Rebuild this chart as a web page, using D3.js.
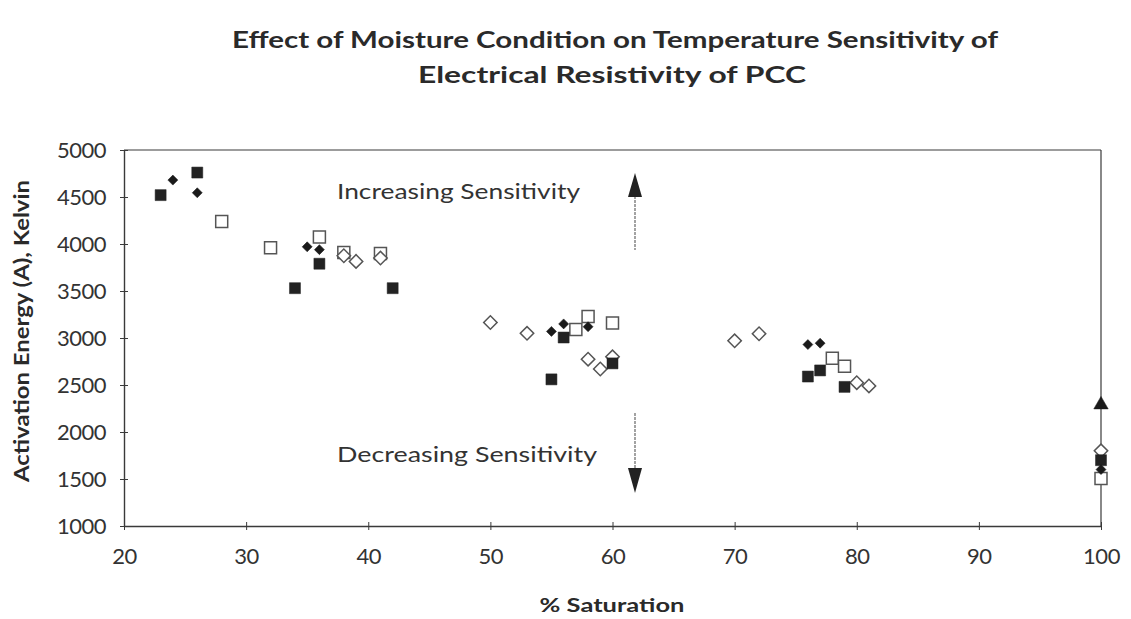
<!DOCTYPE html>
<html>
<head>
<meta charset="utf-8">
<script src="https://cdn.jsdelivr.net/npm/d3@7"></script>
<style>
  body { margin: 0; background: #fff; }
  svg { display: block; }
  text { font-family: "Lato", "DejaVu Sans", sans-serif; }
</style>
</head>
<body>
<svg id="chart" width="1131" height="619"></svg>
<script>
// ---- data ----
const titleLines = ["Effect of Moisture Condition on Temperature Sensitivity of", "Electrical Resistivity of PCC"];
const xLabel = "% Saturation";
const yLabel = "Activation Energy (A), Kelvin";
const xTicks = [20, 30, 40, 50, 60, 70, 80, 90, 100];
const yTicks = [1000, 1500, 2000, 2500, 3000, 3500, 4000, 4500, 5000];

const filledSquareX = [23, 26, 34, 36, 42, 55, 56, 60, 76, 77, 79, 100];
const filledSquareY = [4520, 4760, 3530, 3790, 3530, 2560, 3005, 2730, 2590, 2655, 2480, 1700];

const filledDiamondX = [24, 26, 35, 36, 55, 56, 58, 76, 77, 100];
const filledDiamondY = [4680, 4545, 3970, 3940, 3070, 3150, 3120, 2930, 2945, 1600];

const openSquareX = [28, 32, 36, 38, 41, 57, 58, 60, 78, 79, 100];
const openSquareY = [4240, 3960, 4075, 3910, 3900, 3090, 3230, 3160, 2785, 2700, 1505];

const openDiamondX = [38, 39, 41, 50, 53, 58, 59, 60, 70, 72, 80, 81, 100];
const openDiamondY = [3875, 3815, 3850, 3165, 3050, 2775, 2670, 2800, 2970, 3045, 2525, 2490, 1800];

const filledTriangleX = [100];
const filledTriangleY = [2290];

const annotations = ["Increasing Sensitivity", "Decreasing Sensitivity"];

// ---- layout ----
const svg = d3.select("#chart");
const pLeft = 124, pRight = 1101, pTop = 150, pBottom = 526;
const x = d3.scaleLinear().domain([20, 100]).range([pLeft, pRight]);
const y = d3.scaleLinear().domain([1000, 5000]).range([pBottom, pTop]);
const axisColor = "#3a3a3a";
const textColor = "#333";

// title
svg.append("text").attr("x", 615).attr("y", 48).attr("text-anchor", "middle")
  .attr("font-size", 22).attr("font-weight", "bold").attr("fill", "#2a2a2a")
  .attr("textLength", 766).attr("lengthAdjust", "spacingAndGlyphs").text(titleLines[0]);
svg.append("text").attr("x", 612).attr("y", 83).attr("text-anchor", "middle")
  .attr("font-size", 22).attr("font-weight", "bold").attr("fill", "#2a2a2a")
  .attr("textLength", 388).attr("lengthAdjust", "spacingAndGlyphs").text(titleLines[1]);

// frame (top & right)
svg.append("line").attr("x1", pLeft).attr("x2", pRight).attr("y1", pTop).attr("y2", pTop)
  .attr("stroke", axisColor).attr("stroke-width", 1.2);
svg.append("line").attr("x1", pRight).attr("x2", pRight).attr("y1", pTop).attr("y2", pBottom)
  .attr("stroke", axisColor).attr("stroke-width", 1.2);

// axes
const xAxis = d3.axisBottom(x).tickValues(xTicks).tickSize(0).tickPadding(0).tickFormat(d3.format("d"));
const gx = svg.append("g").attr("transform", `translate(0,${pBottom})`).call(xAxis);
gx.select(".domain").attr("stroke", axisColor).attr("stroke-width", 1.4);
gx.selectAll(".tick line").remove();
gx.selectAll(".tick").append("line").attr("y1", -4).attr("y2", 4).attr("stroke", axisColor);
gx.selectAll(".tick text").attr("y", 38).attr("dy", 0).attr("font-size", 22).attr("fill", textColor)
  .attr("font-family", "Lato, 'DejaVu Sans', sans-serif").attr("letter-spacing", -0.5);

const yAxis = d3.axisLeft(y).tickValues(yTicks).tickSize(0).tickPadding(0).tickFormat(d3.format("d"));
const gy = svg.append("g").attr("transform", `translate(${pLeft},0)`).call(yAxis);
gy.select(".domain").attr("stroke", axisColor).attr("stroke-width", 1.4);
gy.selectAll(".tick line").remove();
gy.selectAll(".tick").append("line").attr("x1", -4).attr("x2", 4).attr("stroke", axisColor);
gy.selectAll(".tick text").attr("x", -18).attr("dy", "0.35em").attr("font-size", 22).attr("fill", textColor)
  .attr("font-family", "Lato, 'DejaVu Sans', sans-serif").attr("letter-spacing", -0.5);

// axis titles
svg.append("text").attr("x", 612).attr("y", 612).attr("text-anchor", "middle")
  .attr("font-size", 19).attr("font-weight", "bold").attr("fill", "#2a2a2a")
  .attr("textLength", 145).attr("lengthAdjust", "spacingAndGlyphs").text(xLabel);
svg.append("text").attr("transform", "translate(29,331) rotate(-90)").attr("text-anchor", "middle")
  .attr("font-size", 20).attr("font-weight", "bold").attr("fill", "#2a2a2a")
  .attr("textLength", 302).attr("lengthAdjust", "spacingAndGlyphs").text(yLabel);

// annotations
svg.append("text").attr("x", 337).attr("y", 199).attr("font-size", 21).attr("fill", textColor)
  .attr("textLength", 243).attr("lengthAdjust", "spacingAndGlyphs").text(annotations[0]);
svg.append("text").attr("x", 337).attr("y", 462).attr("font-size", 21).attr("fill", textColor)
  .attr("textLength", 260).attr("lengthAdjust", "spacingAndGlyphs").text(annotations[1]);

const ax = 635;
svg.append("line").attr("x1", ax).attr("x2", ax).attr("y1", 196).attr("y2", 250)
  .attr("stroke", "#666").attr("stroke-width", 1.2).attr("stroke-dasharray", "3,1");
svg.append("path").attr("d", `M${ax},173 L${ax-7},197 L${ax+7},197 Z`).attr("fill", "#222");
svg.append("line").attr("x1", ax).attr("x2", ax).attr("y1", 413).attr("y2", 469)
  .attr("stroke", "#666").attr("stroke-width", 1.2).attr("stroke-dasharray", "3,1");
svg.append("path").attr("d", `M${ax},493 L${ax-7},468 L${ax+7},468 Z`).attr("fill", "#222");

// markers
const plot = svg.append("g");
function series(xs, ys, type, size, fill, stroke, sw, rot) {
  const pts = xs.map((v, i) => ({ x: v, y: ys[i] }));
  plot.append("g").selectAll("path").data(pts).join("path")
    .attr("transform", d => `translate(${x(d.x)},${y(d.y)}) rotate(${rot || 0})`)
    .attr("d", d3.symbol().type(type).size(size)())
    .attr("fill", fill).attr("stroke", stroke).attr("stroke-width", sw);
}
series(openSquareX, openSquareY, d3.symbolSquare, 144, "#fff", "#555", 1.5, 0);
series(openDiamondX, openDiamondY, d3.symbolSquare, 90, "#fff", "#555", 1.5, 45);
series(filledSquareX, filledSquareY, d3.symbolSquare, 121, "#222", "#222", 0.5, 0);
series(filledDiamondX, filledDiamondY, d3.symbolSquare, 50, "#1a1a1a", "#1a1a1a", 0.5, 45);
series(filledTriangleX, filledTriangleY, d3.symbolTriangle, 90, "#1a1a1a", "#1a1a1a", 0.5, 0);
</script>
</body>
</html>
